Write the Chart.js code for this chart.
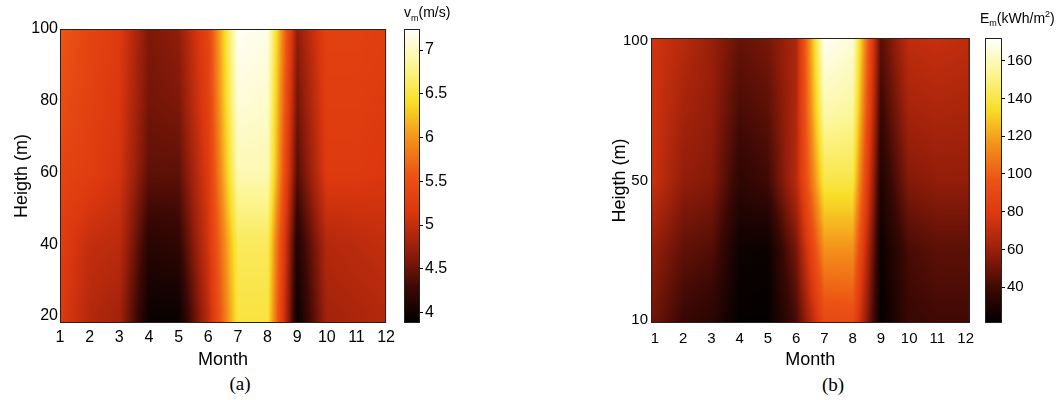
<!DOCTYPE html>
<html>
<head>
<meta charset="utf-8">
<script src="https://cdn.jsdelivr.net/npm/chart.js@4.4.1/dist/chart.umd.min.js"></script>
<style>
  body { margin: 0; background: #fff; width: 1060px; height: 400px; position: relative; overflow: hidden;
         font-family: "Liberation Sans", Arial, sans-serif; color: #000; }
  .box { position: absolute; }
  .cap { position: absolute; font-family: "Liberation Serif", "Times New Roman", serif; font-size: 19px;
         transform: translate(-50%, -50%); white-space: nowrap; }
  .cbt { position: absolute; font-size: 14px; white-space: nowrap; line-height: 1; }
  .cbt sub, .cbt sup { font-size: 9px; }
</style>
</head>
<body>
<div class="box" style="left:0;top:0;width:400px;height:372px"><canvas id="mapA"></canvas></div>
<div class="box" style="left:400px;top:0;width:60px;height:345px"><canvas id="barA"></canvas></div>
<div class="box" style="left:560px;top:0;width:421px;height:372px"><canvas id="mapB"></canvas></div>
<div class="box" style="left:980px;top:0;width:80px;height:345px"><canvas id="barB"></canvas></div>

<div class="cbt" style="left:404px;top:5px">v<sub>m</sub>(m/s)</div>
<div class="cbt" style="left:980px;top:10px">E<sub>m</sub>(kWh/m<sup>2</sup>)</div>
<div class="cap" style="left:240px;top:384px">(a)</div>
<div class="cap" style="left:833px;top:385px">(b)</div>

<script>
// months on the x axis
const months = [1, 2, 3, 4, 5, 6, 7, 8, 9, 10, 11, 12];

// (a) mean wind speed v_m (m/s), one row per height
const heightsA = [20, 40, 60, 80, 100];
const speed20  = [5.2, 4.9, 4.8, 3.95, 3.95, 4.95, 6.5, 6.5, 3.95, 4.8, 4.85, 4.9];
const speed40  = [5.25, 5.0, 4.95, 4.15, 4.2, 5.1, 6.6, 6.6, 4.1, 4.9, 4.95, 5.0];
const speed60  = [5.35, 5.25, 5.1, 4.45, 4.45, 5.2, 6.95, 6.95, 4.4, 5.2, 5.2, 5.15];
const speed80  = [5.5, 5.3, 5.15, 4.55, 4.6, 5.3, 7.1, 7.05, 4.55, 5.25, 5.25, 5.2];
const speed100 = [5.6, 5.35, 5.2, 4.6, 4.7, 5.35, 7.2, 7.15, 4.7, 5.3, 5.3, 5.25];
const speedRows = [speed20, speed40, speed60, speed80, speed100];
const heightTicksA = [20, 40, 60, 80, 100];
const speedTicks = [4, 4.5, 5, 5.5, 6, 6.5, 7];
const speedRange = [3.88, 7.24];

// (b) monthly energy E_m (kWh/m2), one row per height
const heightsB = [10, 30, 50, 75, 100];
const energy10  = [50, 38, 34, 22, 22, 42, 90, 92, 22, 38, 40, 40];
const energy30  = [58, 47, 44, 25, 24, 52, 115, 115, 24, 42, 46, 46];
const energy50  = [72, 58, 55, 35, 40, 68, 140, 140, 30, 55, 58, 58];
const energy75  = [74, 63, 58, 42, 46, 66, 158, 155, 38, 63, 65, 64];
const energy100 = [75, 68, 60, 48, 52, 65, 170, 165, 45, 70, 72, 70];
const energyRows = [energy10, energy30, energy50, energy75, energy100];
const heightTicksB = [10, 50, 100];
const energyTicks = [40, 60, 80, 100, 120, 140, 160];
const energyRange = [21, 172];

Chart.defaults.font.family = "'Liberation Sans', Arial, sans-serif";
Chart.defaults.color = '#000';

// hot-like colour map, toned like the printed figure
const mapStops = [
  [0.00, [0, 0, 0]],
  [0.12, [60, 8, 4]],
  [0.25, [150, 30, 10]],
  [0.38, [220, 55, 15]],
  [0.50, [236, 82, 20]],
  [0.62, [243, 142, 25]],
  [0.75, [248, 222, 40]],
  [0.88, [252, 246, 150]],
  [1.00, [255, 255, 255]]
];
function hot(f) {
  f = Math.min(1, Math.max(0, f));
  let k = 0;
  while (k < mapStops.length - 2 && f > mapStops[k + 1][0]) k++;
  const [f0, c0] = mapStops[k], [f1, c1] = mapStops[k + 1];
  const t = (f - f0) / (f1 - f0);
  return c0.map((c, i) => c + (c1[i] - c) * t);
}

function segment(arr, v) {
  const n = arr.length - 1;
  if (v <= arr[0]) return [0, 0];
  if (v >= arr[n]) return [n - 1, 1];
  let i = 0;
  while (v > arr[i + 1]) i++;
  return [i, (v - arr[i]) / (arr[i + 1] - arr[i])];
}

// shading interp between the grid nodes
function lookup(xs, ys, rows, x, y) {
  const [i, tx] = segment(xs, x);
  const [j, ty] = segment(ys, y);
  const lo = rows[j][i] + (rows[j][i + 1] - rows[j][i]) * tx;
  const hi = rows[j + 1][i] + (rows[j + 1][i + 1] - rows[j + 1][i]) * tx;
  return lo + (hi - lo) * ty;
}

function frame(chart) {
  const { ctx, chartArea: a } = chart;
  ctx.save();
  ctx.strokeStyle = '#222';
  ctx.lineWidth = 1;
  ctx.strokeRect(a.left + 0.5, a.top + 0.5, a.right - a.left - 1, a.bottom - a.top - 1);
  ctx.restore();
}

function heatLayer(xs, ys, rows, range) {
  return {
    id: 'heat',
    beforeDatasetsDraw(chart) {
      const { ctx, chartArea: a, scales: { x, y } } = chart;
      const w = Math.round(a.right - a.left), h = Math.round(a.bottom - a.top);
      const off = document.createElement('canvas');
      off.width = w; off.height = h;
      const octx = off.getContext('2d');
      const img = octx.createImageData(w, h);
      const colVal = [], rowVal = [];
      for (let i = 0; i < w; i++) colVal.push(x.getValueForPixel(a.left + i + 0.5));
      for (let j = 0; j < h; j++) rowVal.push(y.getValueForPixel(a.top + j + 0.5));
      for (let j = 0; j < h; j++) {
        for (let i = 0; i < w; i++) {
          const v = lookup(xs, ys, rows, colVal[i], rowVal[j]);
          const c = hot((v - range[0]) / (range[1] - range[0]));
          const k = (j * w + i) * 4;
          img.data[k] = c[0]; img.data[k + 1] = c[1]; img.data[k + 2] = c[2]; img.data[k + 3] = 255;
        }
      }
      octx.putImageData(img, 0, 0);
      ctx.drawImage(off, a.left, a.top);
    },
    afterDraw: frame
  };
}

function colourBar(range) {
  return {
    id: 'colourbar',
    beforeDraw(chart) {
      const { ctx, chartArea: a, scales: { y } } = chart;
      for (let py = a.top; py < a.bottom; py++) {
        const c = hot((y.getValueForPixel(py + 0.5) - range[0]) / (range[1] - range[0]));
        ctx.fillStyle = 'rgb(' + c.map(Math.round).join(',') + ')';
        ctx.fillRect(a.left, py, a.right - a.left, 1);
      }
    },
    afterDraw: frame
  };
}

function cellsOf(xs, ys, rows) {
  const out = [];
  rows.forEach((row, j) => row.forEach((v, i) => out.push({ x: xs[i], y: ys[j], v: v })));
  return out;
}

function heatChart(id, o) {
  return new Chart(document.getElementById(id), {
    type: 'scatter',
    data: { datasets: [{ data: cellsOf(months, o.rowPos, o.rows), pointRadius: 0, pointHoverRadius: 0 }] },
    options: {
      responsive: true, maintainAspectRatio: false, animation: false, events: [],
      layout: { padding: { top: o.top, right: o.right, left: 0, bottom: 0 } },
      plugins: { legend: { display: false }, tooltip: { enabled: false } },
      scales: {
        x: {
          type: 'linear', min: o.xMin, max: o.xMax,
          afterBuildTicks: s => { s.ticks = months.map(m => ({ value: m })); },
          afterFit: s => { s.height = o.xHeight; },
          grid: { display: false, drawTicks: false }, border: { display: false },
          ticks: { font: { size: o.tickSize }, padding: o.xPad, maxRotation: 0, autoSkip: false, callback: v => v },
          title: { display: true, text: 'Month', font: { size: 18 }, padding: { top: 0, bottom: 1 } }
        },
        y: {
          type: 'linear', min: o.yMin, max: o.yMax,
          afterBuildTicks: s => { s.ticks = o.yTicks.map(t => ({ value: t })); },
          afterFit: s => { s.width = o.yWidth; },
          grid: { display: false, drawTicks: false }, border: { display: false },
          ticks: { font: { size: o.tickSize }, padding: o.yPad, autoSkip: false, callback: o.yLabel },
          title: { display: true, text: 'Heigth (m)', font: { size: 18 }, padding: { top: o.yTitlePad, bottom: 0 } }
        }
      }
    },
    plugins: [heatLayer(months, o.rowPos, o.rows, o.range)]
  });
}

function barChart(id, o) {
  return new Chart(document.getElementById(id), {
    type: 'scatter',
    data: { datasets: [] },
    options: {
      responsive: true, maintainAspectRatio: false, animation: false, events: [],
      layout: { padding: { top: o.top, left: o.left, right: 0, bottom: o.bottom } },
      plugins: { legend: { display: false }, tooltip: { enabled: false } },
      scales: {
        x: { display: false, min: 0, max: 1 },
        y: {
          type: 'linear', position: 'right', min: o.range[0], max: o.range[1],
          afterBuildTicks: s => { s.ticks = o.ticks.map(t => ({ value: t })); },
          afterFit: s => { s.width = o.width; },
          grid: { display: true, drawOnChartArea: false, drawTicks: true, tickLength: 3, color: '#000' },
          border: { display: false },
          ticks: { font: { size: o.tickSize }, padding: 2, autoSkip: false, callback: v => String(v) }
        }
      }
    },
    plugins: [colourBar(o.range)]
  });
}

heatChart('mapA', {
  rows: speedRows, rowPos: heightsA, range: speedRange,
  xMin: 1, xMax: 12, yMin: 18, yMax: 100, yTicks: heightTicksA, yLabel: v => v,
  top: 29, right: 2, xHeight: 49, yWidth: 60, tickSize: 16, xPad: 5, yPad: 2, yTitlePad: 11
});
barChart('barA', { range: speedRange, ticks: speedTicks, top: 29, left: 4, bottom: 22, width: 40, tickSize: 16 });

// (b) is drawn against the row index of each height
const rowIndexB = heightsB.map((h, i) => i);
heatChart('mapB', {
  rows: energyRows, rowPos: rowIndexB, range: energyRange,
  xMin: 0.86, xMax: 12.14, yMin: -0.04, yMax: heightsB.length - 1 + 0.04,
  yTicks: heightTicksB.map(h => heightsB.indexOf(h)), yLabel: v => heightsB[v],
  top: 38, right: 2, xHeight: 49, yWidth: 91, tickSize: 15, xPad: 7, yPad: 3, yTitlePad: 49
});
barChart('barB', { range: energyRange, ticks: energyTicks, top: 38, left: 5, bottom: 22, width: 58, tickSize: 15 });
</script>
</body>
</html>
